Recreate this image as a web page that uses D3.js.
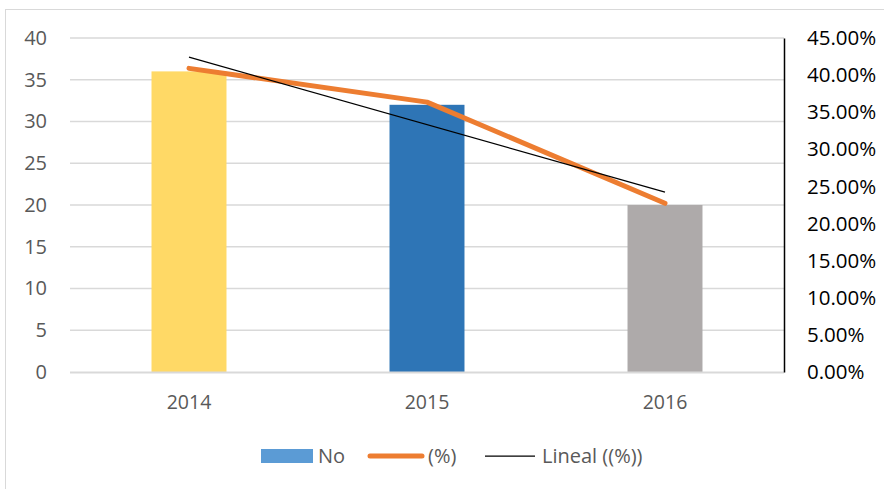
<!DOCTYPE html>
<html>
<head>
<meta charset="utf-8">
<script src="https://cdn.jsdelivr.net/npm/d3@7"></script>
<style>
  body { margin: 0; background: #fff; }
  text { font-family: "Open Sans", sans-serif; }
</style>
</head>
<body>
<div id="chart"></div>
<script>
// data
const years = ['2014', '2015', '2016'];
const counts = [36, 32, 20];
const barColors = ['#FFD966', '#2E75B6', '#AEAAAA'];
const percents = [40.91, 36.36, 22.73];
const trendEnds = [42.42, 24.24]; // linear trend at first and last year
const leftTicks = [0, 5, 10, 15, 20, 25, 30, 35, 40];
const rightTicks = [0, 5, 10, 15, 20, 25, 30, 35, 40, 45];

const W = 884, H = 489;
const margin = { top: 38, right: 100, bottom: 117, left: 70 };
const width = W - margin.left - margin.right;
const height = H - margin.top - margin.bottom;

const svg = d3.select('#chart').append('svg')
  .attr('width', W)
  .attr('height', H);

// outer chart border
svg.append('rect')
  .attr('x', 5.5).attr('y', 9.5)
  .attr('width', W + 10).attr('height', H + 10)
  .attr('fill', 'none')
  .attr('stroke', '#d9d9d9');

const g = svg.append('g')
  .attr('transform', 'translate(' + margin.left + ',' + margin.top + ')');

const x = d3.scaleBand().domain(years).range([0, width]);
const y = d3.scaleLinear().domain([0, 40]).range([height, 0]);
const y2 = d3.scaleLinear().domain([0, 45]).range([height, 0]);

// gridlines
g.append('g')
  .selectAll('line')
  .data(leftTicks.slice(1))
  .enter().append('line')
  .attr('x1', 0).attr('x2', width)
  .attr('y1', d => y(d)).attr('y2', d => y(d))
  .attr('stroke', '#d9d9d9')
  .attr('stroke-width', 1.3);

// left axis labels
g.append('g')
  .call(d3.axisLeft(y).tickValues(leftTicks).tickSize(0).tickPadding(23))
  .call(a => a.select('.domain').remove())
  .selectAll('text')
  .attr('font-size', 20)
  .attr('fill', '#595959')
  .style('font-family', '"Open Sans", sans-serif');

// bars
const bw = x.bandwidth() * 0.315;
g.selectAll('.bar')
  .data(counts)
  .enter().append('rect')
  .attr('class', 'bar')
  .attr('x', (d, i) => x(years[i]) + x.bandwidth() / 2 - bw / 2)
  .attr('y', d => y(d))
  .attr('width', bw)
  .attr('height', d => height - y(d))
  .attr('fill', (d, i) => barColors[i]);

// bottom axis
g.append('line')
  .attr('x1', 0).attr('x2', width)
  .attr('y1', height + 0.5).attr('y2', height + 0.5)
  .attr('stroke', '#d9d9d9')
  .attr('stroke-width', 2);

g.append('g')
  .selectAll('text')
  .data(years)
  .enter().append('text')
  .attr('x', d => x(d) + x.bandwidth() / 2)
  .attr('y', height + 37)
  .attr('text-anchor', 'middle')
  .attr('font-size', 19.5)
  .attr('fill', '#595959')
  .text(d => d);

// right axis
g.append('g')
  .attr('transform', 'translate(' + width + ',0)')
  .call(d3.axisRight(y2).tickValues(rightTicks).tickSize(0).tickPadding(23)
    .tickFormat(d => d.toFixed(2) + '%'))
  .call(a => a.select('.domain')
    .attr('stroke', '#000')
    .attr('stroke-width', 1.5))
  .selectAll('text')
  .attr('font-size', 20.5)
  .attr('fill', '#000')
  .style('font-family', '"Open Sans", sans-serif');

const cx = d => x(d) + x.bandwidth() / 2;

// percent line
g.append('path')
  .datum(percents)
  .attr('fill', 'none')
  .attr('stroke', '#ED7D31')
  .attr('stroke-width', 5)
  .attr('stroke-linecap', 'round')
  .attr('stroke-linejoin', 'round')
  .attr('d', d3.line().x((d, i) => cx(years[i])).y(d => y2(d)));

// linear trend
g.append('path')
  .datum(trendEnds)
  .attr('fill', 'none')
  .attr('stroke', '#000')
  .attr('stroke-width', 1.25)
  .attr('d', d3.line()
    .x((d, i) => cx(i === 0 ? years[0] : years[years.length - 1]))
    .y(d => y2(d)));

// legend
const lg = svg.append('g').attr('font-size', 20).attr('fill', '#595959');
lg.append('rect')
  .attr('x', 261).attr('y', 449)
  .attr('width', 52).attr('height', 14)
  .attr('fill', '#5B9BD5');
lg.append('text').attr('x', 318).attr('y', 463).text('No');
lg.append('line')
  .attr('x1', 370).attr('x2', 422)
  .attr('y1', 456).attr('y2', 456)
  .attr('stroke', '#ED7D31')
  .attr('stroke-width', 5)
  .attr('stroke-linecap', 'round');
lg.append('text').attr('x', 428).attr('y', 463).text('(%)');
lg.append('line')
  .attr('x1', 485).attr('x2', 535)
  .attr('y1', 456).attr('y2', 456)
  .attr('stroke', '#000')
  .attr('stroke-width', 1.25);
lg.append('text').attr('x', 542).attr('y', 463).text('Lineal ((%))');
</script>
</body>
</html>
